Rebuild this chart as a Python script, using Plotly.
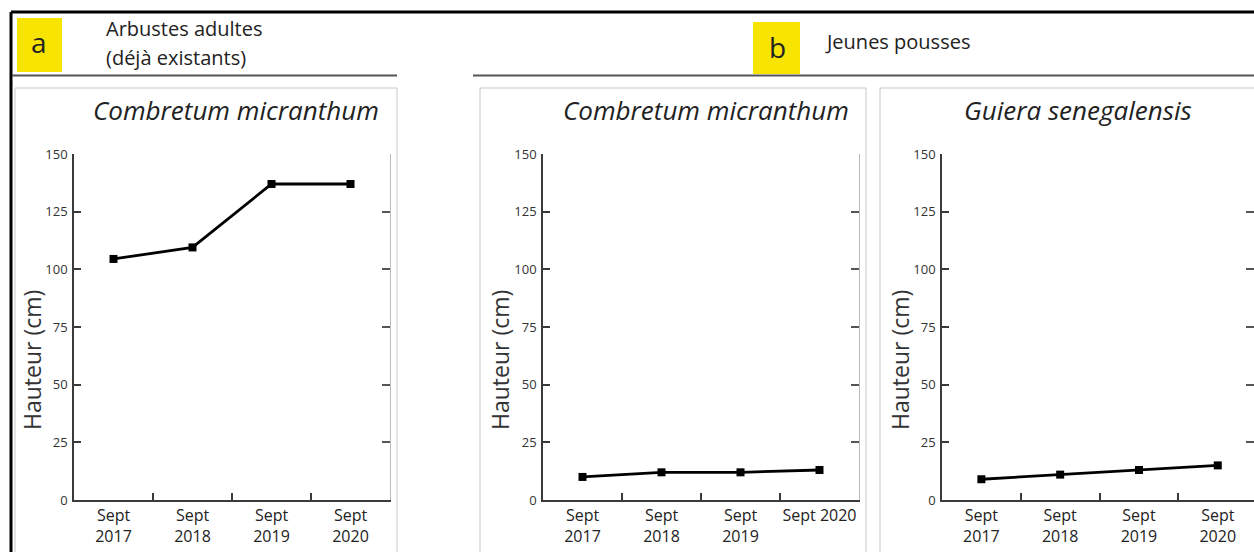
import plotly.graph_objects as go

# ---- data ----
years = ["2017", "2018", "2019", "2020"]
labels_a = ["Sept<br>2017", "Sept<br>2018", "Sept<br>2019", "Sept<br>2020"]
labels_b1 = ["Sept<br>2017", "Sept<br>2018", "Sept<br>2019", "Sept 2020"]
labels_b2 = ["Sept<br>2017", "Sept<br>2018", "Sept<br>2019", "Sept<br>2020"]
adult_combretum = [104.5, 109.5, 137, 137]
young_combretum = [10, 12, 12, 13]
young_guiera = [9, 11, 13, 15]
y_ticks = [0, 25, 50, 75, 100, 125, 150]
titles = ["Combretum micranthum", "Combretum micranthum", "Guiera senegalensis"]
y_title = "Hauteur (cm)"

W, H = 1254, 552
FONT = "Open Sans"
AX = "#3a3a3a"


def px(x):
    return x / W


def py(y):
    return 1 - y / H


fig = go.Figure()

panels = [
    dict(vals=adult_combretum, labels=labels_a, dom=(px(74), px(390)), xr=[-0.5, 3.5]),
    dict(vals=young_combretum, labels=labels_b1, dom=(px(543), px(859)), xr=[-0.5, 3.5]),
    dict(vals=young_guiera, labels=labels_b2, dom=(px(942), 1.0), xr=[-0.5, 3.46]),
]

ydom = [py(500), py(154)]

for i, p in enumerate(panels):
    xn = "x" if i == 0 else f"x{i+1}"
    yn = "y" if i == 0 else f"y{2*i+1}"
    yr_name = f"y{2*i+2}"
    fig.add_trace(go.Scatter(
        x=p["labels"], y=p["vals"], xaxis=xn, yaxis=yn, mode="lines+markers",
        line=dict(color="black", width=2.8),
        marker=dict(symbol="square", size=8, color="black"),
        showlegend=False, hoverinfo="x+y"))
    # invisible trace to keep right-hand mirror axis alive
    fig.add_trace(go.Scatter(
        x=p["labels"], y=p["vals"], xaxis=xn, yaxis=yr_name, mode="markers",
        marker=dict(opacity=0), showlegend=False, hoverinfo="skip"))

    xkey = "xaxis" if i == 0 else f"xaxis{i+1}"
    ykey = "yaxis" if i == 0 else f"yaxis{2*i+1}"
    yrkey = f"yaxis{2*i+2}"
    fig.layout[xkey] = dict(
        domain=list(p["dom"]), anchor=yn, type="category", range=p["xr"],
        categoryorder="array", categoryarray=p["labels"], automargin=False,
        tickangle=0,
        tickson="boundaries", ticks="inside", ticklen=7, tickwidth=1.5, tickcolor=AX,
        showline=True, linecolor=AX, linewidth=1.5, showgrid=False, zeroline=False,
        tickfont=dict(family=FONT, size=16, color="#222"), fixedrange=True)
    fig.layout[ykey] = dict(
        domain=ydom, anchor=xn, range=[0, 150], tickvals=y_ticks, automargin=False,
        ticks="inside", ticklen=7, tickwidth=1.5, tickcolor=AX,
        showline=True, linecolor=AX, linewidth=1.5, showgrid=False, zeroline=False,
        tickfont=dict(family=FONT, size=13, color="#333"), ticklabelstandoff=2,
        fixedrange=True)
    fig.layout[yrkey] = dict(
        domain=ydom, anchor=xn, overlaying=yn, side="right", range=[0, 150],
        tickvals=y_ticks, ticks="inside", ticklen=8, tickwidth=1.5, tickcolor="#555",
        showticklabels=False, showline=True, linecolor="#bbbbbb", linewidth=1,
        automargin=False, showgrid=False, zeroline=False, fixedrange=True)

shapes = []
# outer black frame (top and left)
shapes.append(dict(type="line", xref="paper", yref="paper", x0=px(11), x1=1.0,
                   y0=py(12), y1=py(12), line=dict(color="black", width=3)))
shapes.append(dict(type="line", xref="paper", yref="paper", x0=px(11), x1=px(11),
                   y0=py(12), y1=0, line=dict(color="black", width=3)))
# header separators
shapes.append(dict(type="line", xref="paper", yref="paper", x0=px(12), x1=px(397),
                   y0=py(75.5), y1=py(75.5), line=dict(color="#555", width=2)))
shapes.append(dict(type="line", xref="paper", yref="paper", x0=px(473), x1=1.0,
                   y0=py(75.5), y1=py(75.5), line=dict(color="#555", width=2)))
# yellow tag boxes
shapes.append(dict(type="rect", xref="paper", yref="paper", x0=px(17), x1=px(62),
                   y0=py(72), y1=py(18), line=dict(width=0), fillcolor="#F7E400", layer="below"))
shapes.append(dict(type="rect", xref="paper", yref="paper", x0=px(753), x1=px(800),
                   y0=py(74), y1=py(22), line=dict(width=0), fillcolor="#F7E400", layer="below"))
# panel boxes
for x0, x1 in [(15, 397), (480, 866), (880, 1256)]:
    shapes.append(dict(type="rect", xref="paper", yref="paper", x0=px(x0), x1=min(px(x1), 1.002),
                       y0=-0.01, y1=py(88), line=dict(color="#c8c8c8", width=1),
                       fillcolor="rgba(0,0,0,0)", layer="below"))


def note(text, x, y, size, xanchor="center", angle=0, color="#222"):
    return dict(text=text, x=px(x), y=py(y), xref="paper", yref="paper",
                xanchor=xanchor, yanchor="middle", textangle=angle, showarrow=False,
                font=dict(family=FONT, size=size, color=color))


ann = [
    note("a", 39, 42, 28),
    note("b", 777, 47, 28),
    note("Arbustes adultes", 104, 28, 20, "left"),
    note("(déjà existants)", 104, 57, 20, "left"),
    note("Jeunes pousses", 823, 41, 20, "left"),
]
for t, xc in zip(titles, [236, 706, 1078]):
    ann.append(note(f"<i>{t}</i>", xc, 110, 26))
for xc in [32, 500, 900]:
    ann.append(note(y_title, xc, 360, 23, angle=-90, color="#333"))

fig.update_layout(width=W, height=H, margin=dict(l=0, r=0, t=0, b=0, autoexpand=False),
                  paper_bgcolor="white", plot_bgcolor="white",
                  shapes=shapes, annotations=ann, showlegend=False)

fig.write_html("out.html", config={"displayModeBar": False},
               post_script="document.body.style.margin='0';")
